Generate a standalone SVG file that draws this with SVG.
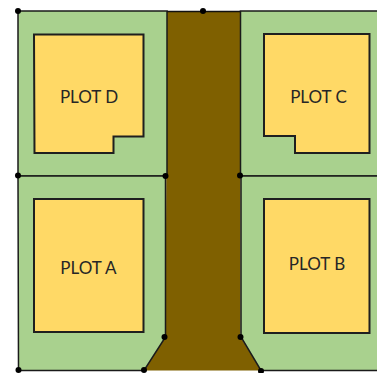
<svg xmlns="http://www.w3.org/2000/svg" width="377" height="373" viewBox="0 0 377 373">
<style>
.g{fill:#a9d18e;stroke:#1a1a1a;stroke-width:1.5}
.p{fill:#ffd966;stroke:#1f1f1f;stroke-width:2}
.t{font-family:Lato,"Open Sans",sans-serif;font-size:17px;fill:#262626;text-anchor:middle}
.e{stroke:#111;stroke-width:1.5;fill:none}
.d{fill:#000}
</style>
<rect width="377" height="373" fill="#fff"/>
<g id="road"><path d="M167 11.500H240.500V337L261 370.500H144L165.500 337Z" fill="#7f6000"/></g>
<g id="plot-d"><rect class="g" x="18" y="11" width="149" height="165"/>
<path class="p" d="M34 34.500H143.500V136.500H113.500V153H34.500Z"/><text class="t" x="89" y="102.500">PLOT D</text></g>
<g id="plot-c"><path class="g" d="M377 11H240.500V176H377"/>
<path class="p" d="M264 34H369.500V153H295V136H264Z"/><text class="t" x="318.500" y="102.500">PLOT C</text></g>
<g id="plot-a"><path class="g" d="M18 176H165.500V337L144 370.500H18.500Z"/>
<path class="p" d="M34 199H143.500V332H34Z"/><text class="t" x="88.500" y="274">PLOT A</text></g>
<g id="plot-b"><path class="g" d="M377 176H241V337L261 370.500H377"/>
<path class="p" d="M264 199H369.500V333H264Z"/><text class="t" x="317" y="270">PLOT B</text></g>
<g id="connectors">
<path class="e" d="M167 11.500H240"/>
<circle class="d" cx="18" cy="11" r="3"/><circle class="d" cx="203" cy="11" r="3"/>
<circle class="d" cx="18" cy="175.500" r="3"/><circle class="d" cx="165.500" cy="176" r="3"/><circle class="d" cx="240" cy="175.500" r="3"/>
<circle class="d" cx="18.500" cy="370" r="3"/><circle class="d" cx="144" cy="370" r="3"/><circle class="d" cx="164.500" cy="337" r="3"/><circle class="d" cx="240.500" cy="337" r="3"/><circle class="d" cx="261" cy="371" r="3"/>
</g>
</svg>
